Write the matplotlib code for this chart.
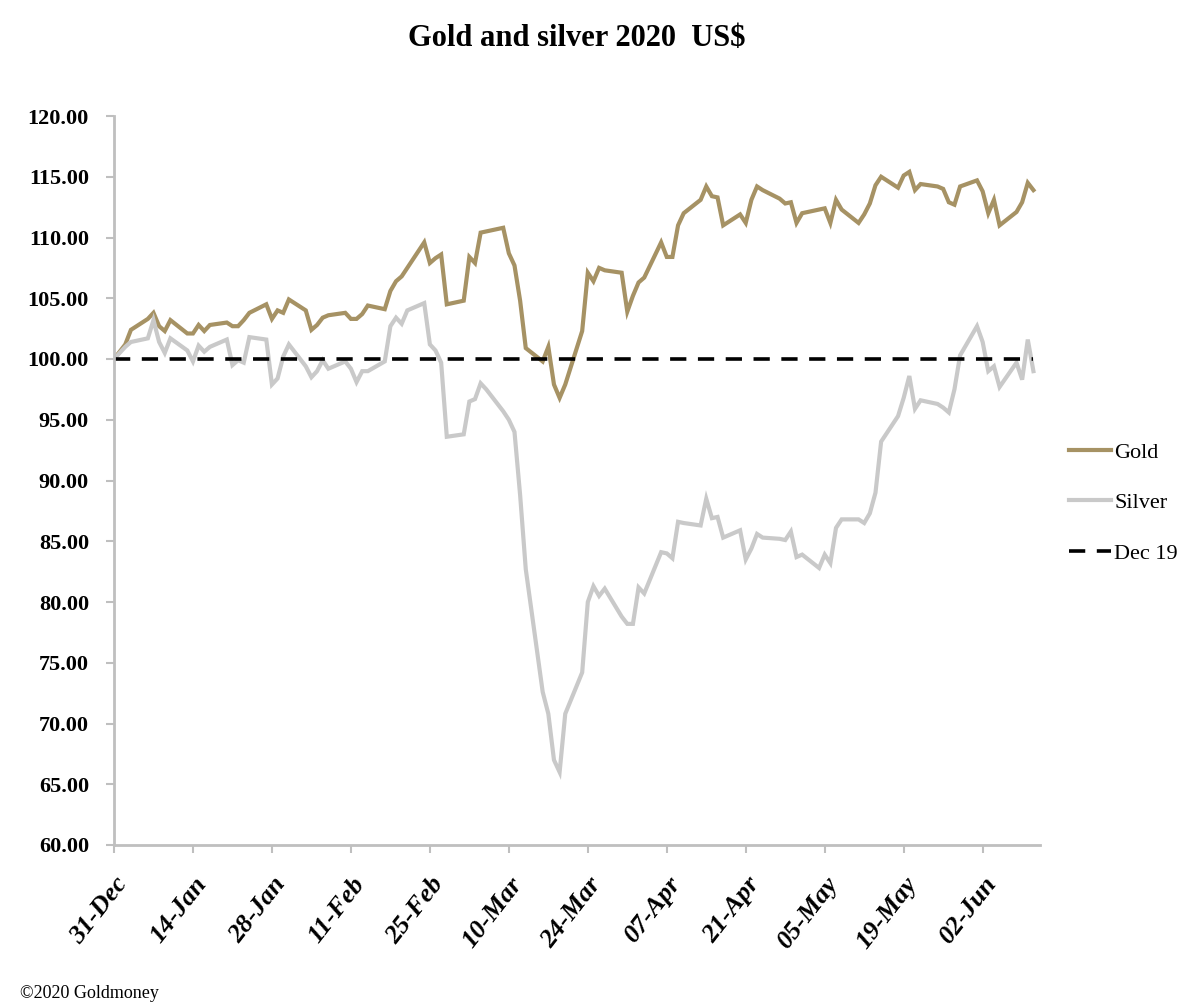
import matplotlib
matplotlib.use('Agg')
import matplotlib.pyplot as plt
import matplotlib.dates as mdates
import pandas as pd

# trading days 31-Dec-2019 .. 11-Jun-2020 (New Year's Day closed)
dates = pd.bdate_range('2019-12-31', '2020-06-11').drop(pd.Timestamp('2020-01-01'))

# index, 31-Dec-2019 = 100
gold = [100.0,
        101.2, 102.4, 103.3, 103.8, 102.7, 102.3, 103.2, 102.1, 102.1, 102.8, 102.3,
        102.8, 103.0, 102.7, 102.7, 103.2, 103.8, 104.5, 103.3, 104.0, 103.8, 104.9,
        104.0, 102.4, 102.8, 103.4, 103.6, 103.8, 103.3, 103.3, 103.7, 104.4,
        104.1, 105.6, 106.4, 106.8, 107.5, 109.6, 107.9, 108.3, 108.6, 104.5,
        104.8, 108.4, 107.9, 110.4, 110.5, 110.8, 108.7, 107.7, 104.8, 100.9, 99.8,
        101.0, 97.9, 96.8, 97.9, 102.3, 107.1, 106.4, 107.5, 107.3, 107.1, 103.9,
        105.2, 106.3, 106.7, 109.6, 108.4, 108.4, 111.0, 112.0, 113.1, 114.2, 113.4,
        113.3, 111.0, 111.9, 111.2, 113.1, 114.2, 113.9, 113.2, 112.8, 112.9, 111.2,
        112.0, 112.3, 112.4, 111.2, 113.1, 112.3, 111.2, 111.9, 112.8, 114.3, 115.0,
        114.1, 115.1, 115.4, 113.9, 114.4, 114.2, 114.0, 112.9, 112.7, 114.2,
        114.7, 113.8, 112.0, 113.1, 111.0, 112.1, 112.9, 114.5, 113.9]

silver = [100.0,
          101.0, 101.4, 101.7, 103.2, 101.4, 100.5, 101.7, 100.7, 99.8, 101.1, 100.6,
          101.0, 101.6, 99.5, 99.9, 99.7, 101.8, 101.6, 97.9, 98.4, 100.2, 101.2,
          99.4, 98.5, 99.0, 99.9, 99.2, 99.8, 99.2, 98.1, 99.0, 99.0,
          99.8, 102.7, 103.4, 102.9, 104.0, 104.6, 101.2, 100.7, 99.7, 93.6,
          93.8, 96.5, 96.7, 98.0, 97.5, 95.7, 95.0, 94.0, 88.8, 82.7, 72.6,
          70.8, 67.0, 66.0, 70.8, 74.2, 80.0, 81.3, 80.5, 81.1, 78.8, 78.2,
          78.2, 81.2, 80.7, 84.1, 84.0, 83.6, 86.6, 86.5, 86.3, 88.5, 86.9,
          87.0, 85.3, 85.9, 83.5, 84.4, 85.6, 85.3, 85.2, 85.1, 85.8, 83.7,
          83.9, 82.8, 83.9, 83.2, 86.1, 86.8, 86.8, 86.5, 87.3, 89.0, 93.2,
          95.3, 96.8, 98.6, 95.9, 96.6, 96.3, 96.0, 95.6, 97.5, 100.3,
          102.7, 101.4, 99.0, 99.4, 97.7, 99.7, 98.3, 101.6, 99.0]

dec19_level = 100.0

gold_col = '#a69264'
silver_col = '#c9c9c9'
axis_col = '#bfbfbf'
serif = ['Liberation Serif', 'DejaVu Serif']

plt.rcParams['font.family'] = serif

fig = plt.figure(figsize=(11.86, 10.08), dpi=100)
ax = fig.add_axes([114 / 1186, 163 / 1008, 926 / 1186, 729 / 1008])

ax.plot(dates, gold, color=gold_col, lw=3, label='Gold', solid_joinstyle='miter')
ax.plot(dates, silver, color=silver_col, lw=3, label='Silver', solid_joinstyle='miter')
ax.plot(dates, [dec19_level] * len(dates), color='black', lw=2.6,
        dashes=(4.5, 3.2), label='Dec 19')

ax.set_ylim(60, 120)
ax.set_yticks(range(60, 121, 5))
ax.yaxis.set_major_formatter(matplotlib.ticker.FormatStrFormatter('%.2f'))
ax.set_xlim(pd.Timestamp('2019-12-31'), pd.Timestamp('2020-06-12 04:00'))
ax.set_xticks(pd.date_range('2019-12-31', '2020-06-02', freq='14D'))
ax.xaxis.set_major_formatter(mdates.DateFormatter('%d-%b'))

for s in ['top', 'right']:
    ax.spines[s].set_visible(False)
for s in ['left', 'bottom']:
    ax.spines[s].set_color(axis_col)
    ax.spines[s].set_linewidth(2)
ax.tick_params(axis='both', colors=axis_col, width=1.5, length=6)
ax.tick_params(axis='y', labelcolor='black', labelsize=16, pad=12)
ax.tick_params(axis='x', labelcolor='black', labelsize=19, pad=14)
for lab in ax.get_yticklabels():
    lab.set_fontweight('bold')
for lab in ax.get_xticklabels():
    lab.set_fontweight('bold')
    lab.set_fontstyle('italic')
    lab.set_rotation(52)
    lab.set_ha('right')
    lab.set_rotation_mode('anchor')

fig.text(577 / 1186, 1 - 38 / 1008, 'Gold and silver 2020  US$', ha='center', va='center',
         fontsize=22, fontweight='bold')
fig.text(20 / 1186, 1 - 993 / 1008, '\u00a92020 Goldmoney', ha='left', va='center', fontsize=13)

fig.legend(loc='center left', bbox_to_anchor=(1060 / 1186, 1 - 503 / 1008), frameon=False,
           fontsize=16, handlelength=1.9, handletextpad=0.15, labelspacing=1.35,
           borderaxespad=0.0)

fig.savefig('out.png', dpi=100, facecolor='white')
